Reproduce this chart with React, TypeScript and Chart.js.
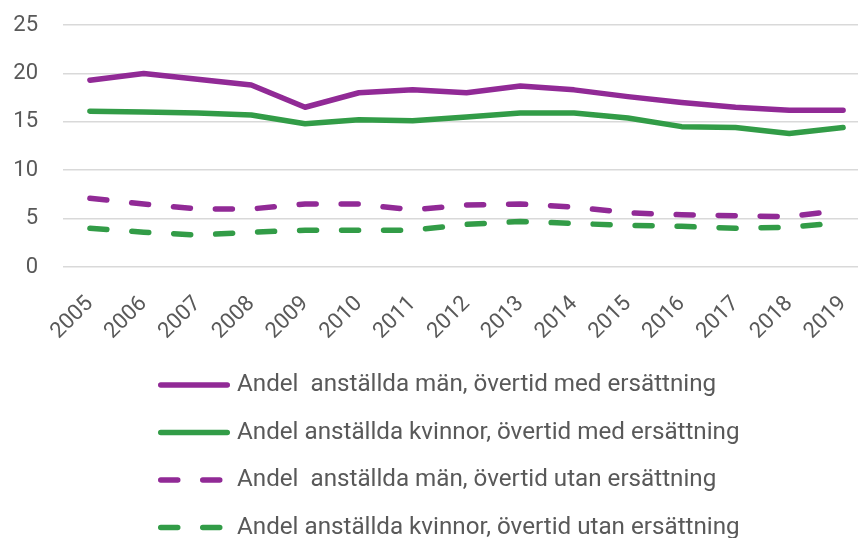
import React, { useEffect, useRef } from "react";
import { Chart, registerables } from "chart.js";

Chart.register(...registerables);

const years = ["2005", "2006", "2007", "2008", "2009", "2010", "2011", "2012", "2013", "2014", "2015", "2016", "2017", "2018", "2019"];
const menPaid = [19.3, 20.0, 19.4, 18.8, 16.5, 18.0, 18.3, 18.0, 18.7, 18.3, 17.6, 17.0, 16.5, 16.2, 16.2];
const womenPaid = [16.1, 16.0, 15.9, 15.7, 14.8, 15.2, 15.1, 15.5, 15.9, 15.9, 15.4, 14.5, 14.4, 13.8, 14.4];
const menUnpaid = [7.1, 6.5, 6.0, 6.0, 6.5, 6.5, 5.9, 6.4, 6.5, 6.2, 5.6, 5.4, 5.3, 5.2, 5.9];
const womenUnpaid = [4.0, 3.6, 3.3, 3.6, 3.8, 3.8, 3.8, 4.4, 4.7, 4.5, 4.3, 4.2, 4.0, 4.1, 4.6];
const yTicks = [0, 5, 10, 15, 20, 25];
const seriesLabels = [
  "Andel  anställda män, övertid med ersättning",
  "Andel anställda kvinnor, övertid med ersättning",
  "Andel  anställda män, övertid utan ersättning",
  "Andel anställda kvinnor, övertid utan ersättning",
];

const PURPLE = "#912a96";
const GREEN = "#329c47";
const TEXT = "#595959";
const FONT = "Roboto, 'Noto Sans', sans-serif";
const DASH = [17, 25];

const legendPlugin = {
  id: "customLegend",
  afterDraw(chart: any) {
    const ctx = chart.ctx;
    const rows = [385, 432.5, 480, 527.5];
    ctx.save();
    chart.data.datasets.forEach((ds: any, i: number) => {
      const y = rows[i];
      ctx.strokeStyle = ds.borderColor;
      ctx.lineWidth = 5.5;
      ctx.lineCap = "round";
      ctx.setLineDash(ds.borderDash || []);
      ctx.beginPath();
      ctx.moveTo(160.75, y);
      ctx.lineTo(ds.borderDash ? 222 : 227.25, y);
      ctx.stroke();
      ctx.setLineDash([]);
      ctx.fillStyle = TEXT;
      ctx.font = `24.2px ${FONT}`;
      ctx.textAlign = "left";
      ctx.textBaseline = "middle";
      ctx.fillText(ds.label, 237, y);
    });
    ctx.restore();
  },
};

export default function App() {
  const ref = useRef<HTMLCanvasElement>(null);
  useEffect(() => {
    const canvas = ref.current!;
    const common = {
      borderWidth: 5.5,
      pointRadius: 0,
      tension: 0,
      fill: false,
      borderCapStyle: "round",
      borderJoinStyle: "round",
    };
    const chart = new Chart(canvas, {
      type: "line",
      data: {
        labels: years,
        datasets: [
          { ...common, label: seriesLabels[0], data: menPaid, borderColor: PURPLE, backgroundColor: PURPLE },
          { ...common, label: seriesLabels[1], data: womenPaid, borderColor: GREEN, backgroundColor: GREEN },
          { ...common, label: seriesLabels[2], data: menUnpaid, borderColor: PURPLE, backgroundColor: PURPLE, borderDash: DASH },
          { ...common, label: seriesLabels[3], data: womenUnpaid, borderColor: GREEN, backgroundColor: GREEN, borderDash: DASH },
        ] as any,
      },
      options: {
        responsive: false,
        animation: false,
        devicePixelRatio: 1,
        layout: { padding: { top: 25, right: 10, bottom: 0, left: 0 } },
        plugins: { legend: { display: false }, tooltip: { enabled: false } },
        scales: {
          x: {
            offset: true,
            grid: { display: false, drawTicks: false },
            border: { display: false },
            ticks: {
              autoSkip: false,
              maxRotation: 45,
              minRotation: 45,
              padding: 24,
              color: TEXT,
              font: { family: FONT, size: 22 },
            },
            afterFit: (s: any) => {
              s.height = 271;
              s.paddingLeft = 0;
              s.paddingRight = 0;
            },
          },
          y: {
            min: 0,
            max: 25,
            grid: { color: "#d9d9d9", lineWidth: 1.5, drawTicks: false },
            border: { display: false },
            ticks: {
              stepSize: 5,
              padding: 25,
              color: TEXT,
              font: { family: FONT, size: 22 },
            },
            afterBuildTicks: (s: any) => {
              s.ticks = yTicks.map((v) => ({ value: v }));
            },
            afterFit: (s: any) => {
              s.width = 63;
              s.paddingTop = 0;
              s.paddingBottom = 0;
            },
          },
        },
      } as any,
      plugins: [legendPlugin],
    });
    return () => chart.destroy();
  }, []);
  return (
    <div style={{ position: "fixed", left: 0, top: 0, width: 858, height: 538, overflow: "hidden", background: "#fff" }}>
      <canvas ref={ref} width={880} height={538} style={{ display: "block" }} />
    </div>
  );
}
